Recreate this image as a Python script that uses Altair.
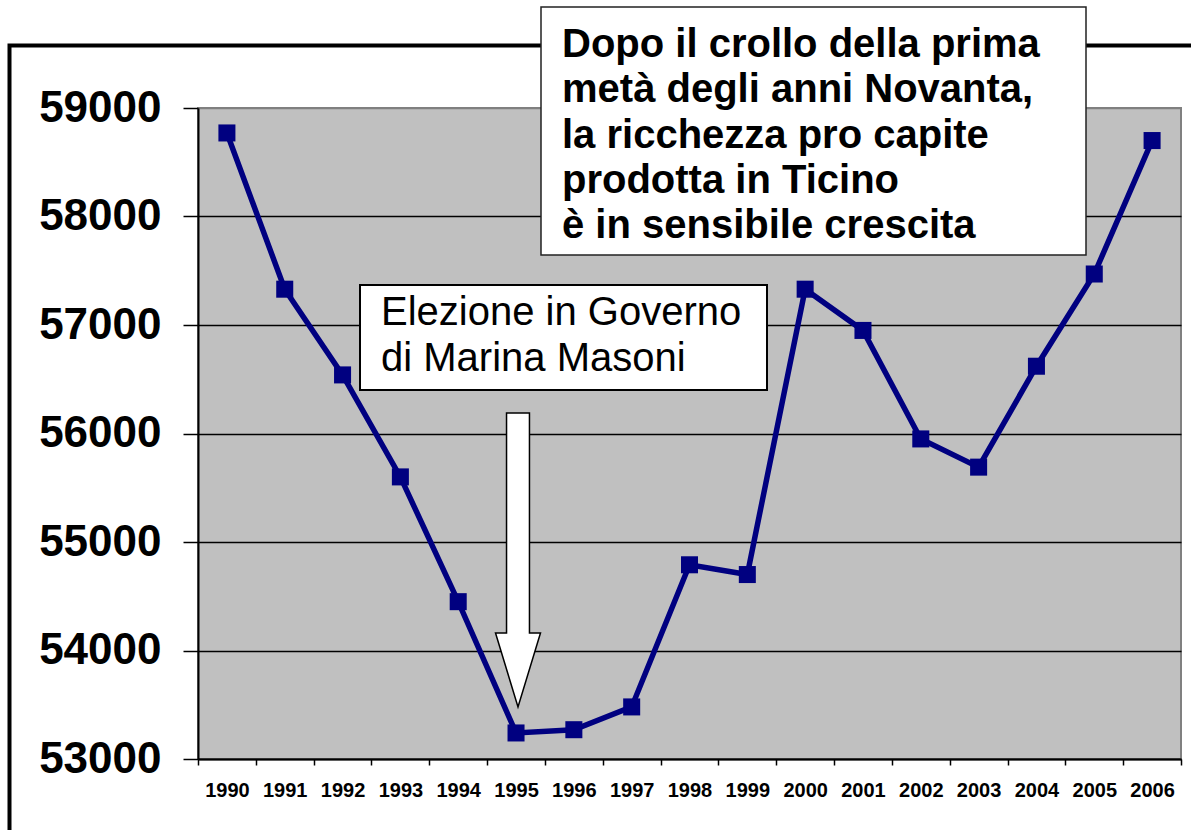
import altair as alt
import pandas as pd

years = [str(y) for y in range(1990, 2007)]
values = [58770, 57330, 56540, 55600, 54450, 53240, 53270, 53480, 54790,
          54700, 57330, 56950, 55950, 55690, 56620, 57470, 58700]
y_ticks = [53000, 54000, 55000, 56000, 57000, 58000, 59000]

box1_lines = ["Elezione in Governo", "di Marina Masoni"]
box2_lines = ["Dopo il crollo della prima", "metà degli anni Novanta,",
              "la ricchezza pro capite", "prodotta in Ticino",
              "è in sensibile crescita"]

FONT = "Liberation Sans"
NAVY = "#000080"

df = pd.DataFrame({"anno": years, "valore": values})
one = pd.DataFrame({"k": [0]})

x_enc = alt.X(
    "anno:O",
    scale=alt.Scale(type="band", paddingInner=0, paddingOuter=0),
    axis=alt.Axis(
        title=None, labelAngle=0, tickBand="extent", labelFont=FONT,
        labelFontSize=20, labelFontWeight="bold", labelColor="black",
        tickColor="black", tickSize=6, tickWidth=1.5, domainColor="black",
        domainWidth=2, labelPadding=15, grid=False,
    ),
)
y_enc = alt.Y(
    "valore:Q",
    scale=alt.Scale(domain=[53000, 59000], nice=False, zero=False),
    axis=alt.Axis(
        title=None, values=y_ticks, format="d", labelFont=FONT,
        labelFontSize=44, labelFontWeight="bold", labelColor="black",
        tickColor="black", tickSize=15, tickWidth=1.5, domainColor="black",
        domainWidth=2, labelPadding=22, grid=True,
        gridColor=alt.condition("datum.value >= 59000", alt.value("#808080"), alt.value("black")),
        gridWidth=1.5,
    ),
)

base = alt.Chart(df)
line = base.mark_line(color=NAVY, strokeWidth=5.5).encode(x=x_enc, y=y_enc)
pts = base.mark_point(shape="square", filled=True, color=NAVY, size=290, opacity=1).encode(x=x_enc, y=y_enc)

frame = alt.Chart(one).mark_rect(fillOpacity=0, stroke="black", strokeWidth=4).encode(
    x=alt.value(-188.5), x2=alt.value(1100), y=alt.value(-62.5), y2=alt.value(800)
)

box1 = alt.Chart(one).mark_rect(fill="white", stroke="black", strokeWidth=2).encode(
    x=alt.value(162), x2=alt.value(569), y=alt.value(177), y2=alt.value(282)
)
text1 = alt.Chart(one).mark_text(
    text=box1_lines, align="left", baseline="alphabetic", font=FONT,
    fontSize=40, lineHeight=46, color="black",
).encode(x=alt.value(183), y=alt.value(217))

box2 = alt.Chart(one).mark_rect(fill="white", stroke="#222222", strokeWidth=1.5).encode(
    x=alt.value(343), x2=alt.value(888), y=alt.value(-101), y2=alt.value(147)
)
text2 = alt.Chart(one).mark_text(
    text=box2_lines, align="left", baseline="alphabetic", font=FONT,
    fontSize=40, fontWeight="bold", lineHeight=45.3, color="black",
).encode(x=alt.value(364), y=alt.value(-51))

arrow_path = ("M -0.078 -1 L 0.078 -1 L 0.078 0.497 L 0.153 0.497 L 0 1 "
              "L -0.153 0.497 L -0.078 0.497 Z")
arrow = alt.Chart(one).mark_point(
    shape=arrow_path, filled=True, fill="white", stroke="black",
    strokeWidth=1.5, size=86436, opacity=1,
).encode(x=alt.value(320), y=alt.value(452))

chart = alt.layer(line, pts, frame, box1, text1, arrow, box2, text2).properties(
    width=983, height=651,
    autosize=alt.AutoSizeParams(type="none"),
    padding={"left": 198, "top": 108, "right": 10, "bottom": 71},
    background="white",
).configure_view(fill="#C0C0C0", stroke="#808080", strokeWidth=2)

chart.save("out.html", embed_options={"renderer": "svg", "actions": False})
